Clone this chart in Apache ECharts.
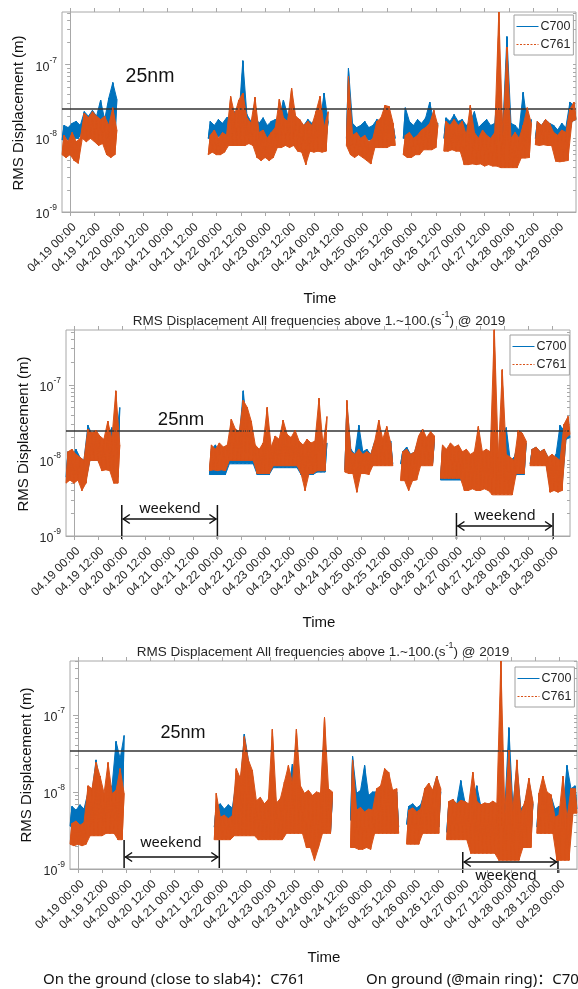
<!DOCTYPE html>
<html>
<head>
<meta charset="utf-8">
<script src="https://cdn.jsdelivr.net/npm/echarts@6.0.0/dist/echarts.min.js"></script>
<style>
  html, body { margin: 0; padding: 0; background: #fff; }
  #main { width: 578px; height: 989px; }
</style>
</head>
<body>
<div id="main"></div>
<script>
// time = hours since 04.19 00:00, one reading per hour inside each recorded stretch
const segStart = [-4, 68, 136, 164, 184, 229];

const tickHours = [0, 12, 24, 36, 48, 60, 72, 84, 96, 108, 120, 132, 144, 156, 168, 180, 192, 204, 216, 228, 240];
const tickLabels = ['04.19 00:00', '04.19 12:00', '04.20 00:00', '04.20 12:00', '04.21 00:00', '04.21 12:00',
  '04.22 00:00', '04.22 12:00', '04.23 00:00', '04.23 12:00', '04.24 00:00', '04.24 12:00', '04.25 00:00',
  '04.25 12:00', '04.26 00:00', '04.26 12:00', '04.27 00:00', '04.27 12:00', '04.28 00:00', '04.28 12:00', '04.29 00:00'];

// y values in nm (1 nm = 10^-9 m)
const yMajor = [1, 10, 100];
const yMajorLabels = ['-9', '-8', '-7'];
const yMinor = [2, 3, 4, 5, 6, 7, 8, 9, 20, 30, 40, 50, 60, 70, 80, 90, 200, 300, 400, 500];
const yMax = [520, 530, 500];
const limitLine = [25, 25, 34];

// panel 1
const p1C700 = [
  [9.5,15,10,14,9,16, 10,17,10,15, 12,23,13,20, 12,24,11,20, 11,33,11,18, 10,35,9,57,9,34],
  [10,17,9.5,15,10,18,11,16,9.5,19, 11,20,11,23,11,18,11,113, 11,21,11,17,11,20, 10,16,10,19,10,15,10,17,9.5,18,
   11,19,11,33,11,21,11,22,11,18, 10,17,10,15,10,18,10,16,10,19, 10,16,10,41,10,17],
  [10,89,10,16,10,14,9.5,15,10,17,9.5,14, 9.5,15,10,18,10,16,10,19,10,17,10,15,10],
  [10,26,10,17,9.5,15,10,18,10,16,10,19,10,31,10,17,10,16],
  [10,19,10,17,10,21,10,17,10,18, 9,15,9,17,9,23,9,14,9,16,9,18,9,15,9,16,9, 70,8,14,8,240,8,16,8,15,8,13, 9,42,9,16,9,18],
  [10,17,10,15,10,18,10,16,10, 15,9,13,9,16,9,14,9, 31,17,28,18]
];
const p1C761 = [
  [6,11,5.5,9,6,12, 5,9,4.6,10, 10,22,9,19, 10,23,9,20, 8,18,8.5,20, 6,15,5.5,26,6,13],
  [6,11,6.5,13,6,10,6,12,6.5,11, 8,37,8,21,8,33,8,41, 8,19,8.5,16,8,36, 5.5,12,5,13,5.5,10,5,12,5.5,14,
   7.5,34,7.5,19,8,17,7.5,48,8,20, 6.7,18,6.5,15,4.4,17,6.7,15,6.5,23, 6.7,37,6.5,14,6.7,23],
  [8,69,6,11,5.5,12,6,10,5.5,11,5,9, 4.5,10,7.5,17,7.5,19,7.5,28,7.5,27,8,16,8],
  [6,11,5.5,12,5.5,10,6,11,6,13,7,14,7,16,7,24,7.5,15],
  [6.7,17,6.7,15,7,18,6.7,15,6.7,17, 4.4,11,4.4,28,4.5,12,4.4,10,4.5,13,4.2,11,4.4,10,4.2,12,4.2,
   520,4,11,4,174,4,10,4,12,4,10, 5.4,15,5.4,26,5.5,16],
  [8.2,17,8,15,8.2,18,8,16,8, 12,4.9,11,4.8,13,4.9,12,5, 25,17,31,18]
];

// panel 2
const p2C700 = [
  [6,13,6,11,6,14,6, 11,5,10,5.5, 29,10,22,10,24,10, 20,8,18,8,21,8,27, 6,18,6,50],
  [6.5,14,6.5,16,6.5,13,6.5,15,6.5,14, 9,22,9,25,9,20,9,83,9,23,9,21,9, 15,6.5,13,6.5,16,6.5,22,6.5,14,
   8,20,8,18,8,22,8,20,8,17,8,20,8, 17,6.5,15,6.5,18,6.5,16,6.5,17, 7,40,7,15,7,17],
  [7.5,55,7.5,14,7.5,12,7,29,7,13,7,14,7,12, 9,18,9,16,9,19,9,17,9,18,9],
  [9,13,9,15,8.5,12,9,13,9,19,9,21,9,18,9,21,9,19],
  [5.5,14,5.5,12,5.5,15,5.5,13,5.5,14,5.5, 12,5,13,5,11,5,12,5,14,5,12,5,13,5,12,
   5,76,5,10,5,11,5,27,5,10,5,11, 6.5,17,6.5,15,6.5,17],
  [9,14,9,15,9,13,9,14,9, 11,4.5,10,4.5,12,4.5,29,4.5, 25,19,30,20]
];
const p2C761 = [
  [5,13,5.5,14,5,12,5.5, 11,4,10,5, 26,10,23,10,25,10, 21,7.3,19,7.5,33,7.3,19, 5,83,5,16],
  [7.3,16,7.5,14,7.3,17,7.5,15,7.3,16, 10,35,10,26,10,24,10,62,10,50,10,33,10, 16,6.7,14,6.7,17,6.7,50,6.7,15,
   8.5,21,8.5,19,8.5,34,8.5,22,8.5,20,8.5,25,8.5, 18,6.7,16,4,19,6.7,17,6.7,18, 7.3,66,7.3,16,7.3,38],
  [7,62,6.7,13,6.7,12,3.8,14,6.7,12,6.7,13,6.5,12, 8.5,18,8.5,34,8.5,19,8.5,28,8.5,17,8.5],
  [5.4,13,5.4,14,4,12,5.4,13,5.5,21,8.5,26,8.5,20,8.5,24,8.5,21],
  [5.8,16,5.8,14,5.8,17,5.8,15,5.8,16,5.8, 13,4,14,4,12,4.2,13,4,28,4,13,4.2,14,4,13,
   3.5,560,3.5,11,3.5,158,3.5,12,3.5,11,3.5,10, 6.7,25,6.7,23,6.7,18],
  [8.5,14,8.5,15,8.5,13,8.5,14,8.5, 11,3.8,12,4,11,3.8,10,4, 30,20,38,22]
];

// panel 3
const p3C700 = [
  [3.6,6.5,3.6,5.8,3.6,6.8,3.5,6,3.6, 10,4,10,4,26,4,13,4, 9,4,8,4,12,4,45, 3.5,27,3.5,54],
  [3.5,6.5,3.5,7,3.5,6,3.5,6.8,3.5,6.2, 3.5,14,3.5,12,3.5,56,3.5,26,3.5,14,3.5, 6,3,6.5,3,5.5,3,6,3,24,3,6.5,3,6,3,
   10,3.5,11,3.5,23,3.5,12,3.5,10,3.5, 5.3,2.5,5.8,2.5,5,2.5,5.5,2.5,5.3, 3,15,3,9,3,9],
  [4.3,29,4.3,9.6,4.3,10.5,4.3,22,4.3,9,4.3,10, 3.5,10,3.5,11,3.5,12,3.5,11,3.5,9.5,3.5,10,3.5],
  [3.8,6.5,3.8,7,3.8,6.2,3.8,6.8,3.5,10,3.5,11,3.5,10,3.5,16,3.5,10],
  [3,7,3,8,3,7,3,14,3,7.5,3, 6,2.5,8,2.5,12,2.5,6.5,2.5,6,2.5,7,2.5,6,2.5,6.5,
   2.5,16,2.5,6,2.5,68,2.5,6.5,2.5,22,2.5,6, 2.5,7,2.5,14,2.5,7],
  [3.5,9,3.5,10,3.5,9.5,3.5,9,3.5, 6,2,6.5,2,5.8,2,22,2, 11,6,12,6]
];
const p3C761 = [
  [2.1,3.9,2.0,4.2,2.1,3.7,2.0,4.0,2.1, 12,2.7,11,2.7,24,2.7,16,2.7, 9.6,2.9,24,2.9,9.5,2.9,10.5, 2.4,20,2.4,9.6],
  [2.4,9.6,2.4,4.7,2.4,5,2.4,4.5,2.4,4.9, 2.7,20,2.7,15,2.7,52,2.7,26,2.7,19,2.7,
   7.7,2.4,8.5,2.4,7,2.4,8,2.4,65,2.4,7.2,2.4,8.2,2.4, 13.5,2.9,22,2.9,13,2.9,65,2.9,12,2.9,
   9.6,1.9,10.5,1.9,9,1.3,10,1.9,9.6, 2.9,93,2.9,11,2.9,10],
  [1.9,26,1.9,5.8,1.8,6.3,1.8,5.5,1.9,6,1.8,5.8, 2.9,11,2.9,12,2.9,20,2.9,18,2.9,10.5,2.9,11,2.9],
  [2.1,5.8,2.1,6.2,2.1,5.5,2.1,6,2.9,11,2.9,13,2.9,10.5,2.9,16,2.9,11],
  [2.4,7.5,2.4,8,2.4,7,2.4,7.8,2.4,7.5,2.4, 7,1.6,18,1.6,7.5,1.6,6.8,1.6,7.2,1.6,7,1.6,7.6,1.6,7,
   1.3,500,1.3,5.3,1.3,35,1.3,5.6,1.3,26,1.3,5.3, 1.9,7.5,1.9,15,1.9,7.5],
  [2.9,9.6,2.9,16,2.9,10,2.9,9.2,2.9, 4.7,1.3,5,1.3,16,1.3,4.5,1.3, 11,5.3,11,5.3]
];

const c700 = [p1C700, p2C700, p3C700];
const c761 = [p1C761, p2C761, p3C761];

const BLUE = '#0072BD';
const ORANGE = '#D95319';
const AXIS = '#a8a8a8';
const TXT = '#262626';
const FONT = 'Liberation Sans, Arial, sans-serif';
const CAL = 'Noto Sans, Noto Sans CJK SC, sans-serif';

const grids = [
  { left: 62, top: 12, width: 514, height: 200 },
  { left: 66, top: 330, width: 504, height: 206 },
  { left: 70, top: 661, width: 507, height: 208 }
];
const legendPos = [
  { left: 514, top: 15 },
  { left: 510, top: 335 },
  { left: 515, top: 667 }
];

function toLine(segs) {
  const pts = [];
  segs.forEach(function (vals, i) {
    vals.forEach(function (v, j) { pts.push([segStart[i] + j, v]); });
    pts.push([segStart[i] + vals.length - 0.5, '-']);
  });
  return pts;
}

// fills the spread between successive readings so the noisy trace reads as a solid band
function bandSeries(name, pts, color, i, z) {
  return {
    name: name + ' band', type: 'custom', coordinateSystem: 'cartesian2d',
    xAxisIndex: 2 * i, yAxisIndex: 3 * i, data: pts, encode: { x: 0, y: 1 },
    silent: true, clip: true, z: z,
    renderItem: function (params, api) {
      const k = params.dataIndex, a = pts[k - 1], p = pts[k], b = pts[k + 1];
      if (!a || !b || a[1] === '-' || p[1] === '-' || b[1] === '-') return null;
      return {
        type: 'polygon',
        shape: { points: [api.coord(a), api.coord(p), api.coord(b)] },
        style: { fill: color, stroke: color, lineWidth: 1 }
      };
    }
  };
}

const xAxes = [], yAxes = [], series = [], legends = [];
grids.forEach(function (g, i) {
  g.show = true;
  g.borderColor = AXIS;
  g.borderWidth = 1;
  xAxes.push({
    gridIndex: i, type: 'value', min: -4, max: 249, position: 'bottom',
    axisLine: { show: true, lineStyle: { color: AXIS } },
    axisTick: { show: true, customValues: tickHours, length: 4, lineStyle: { color: AXIS } },
    axisLabel: {
      customValues: tickHours, rotate: 45, margin: 9, fontSize: 12, color: TXT, fontFamily: FONT,
      align: 'right', verticalAlign: 'top',
      formatter: function (v) { return tickLabels[tickHours.indexOf(Math.round(v))] || ''; }
    },
    splitLine: { show: false }
  });
  xAxes.push({
    gridIndex: i, type: 'value', min: -4, max: 249, position: 'top',
    axisLine: { show: false },
    axisTick: { show: true, customValues: tickHours, length: 4, lineStyle: { color: AXIS } },
    axisLabel: { show: false }, splitLine: { show: false }
  });
  yAxes.push({
    gridIndex: i, type: 'log', logBase: 10, min: 1, max: yMax[i], position: 'left',
    axisLine: { show: true, lineStyle: { color: AXIS } },
    axisTick: { show: true, customValues: yMajor, length: 5, lineStyle: { color: AXIS } },
    axisLabel: {
      customValues: yMajor, margin: 5,
      formatter: function (v) {
        const k = yMajor.indexOf(Math.round(v));
        return '{b|10}{s|' + yMajorLabels[k] + '}';
      },
      rich: {
        b: { fontSize: 12.5, lineHeight: 18, verticalAlign: 'bottom', color: TXT, fontFamily: FONT },
        s: { fontSize: 8.5, lineHeight: 10, verticalAlign: 'top', color: TXT, fontFamily: FONT }
      }
    },
    splitLine: { show: false }
  });
  yAxes.push({
    gridIndex: i, type: 'log', logBase: 10, min: 1, max: yMax[i], position: 'left',
    axisLine: { show: false },
    axisTick: { show: true, customValues: yMinor, length: 3, lineStyle: { color: AXIS } },
    axisLabel: { show: false }, splitLine: { show: false }
  });
  yAxes.push({
    gridIndex: i, type: 'log', logBase: 10, min: 1, max: yMax[i], position: 'right',
    axisLine: { show: false },
    axisTick: { show: true, inside: true, customValues: yMajor.concat(yMinor), length: 3, lineStyle: { color: AXIS } },
    axisLabel: { show: false }, splitLine: { show: false }
  });

  const blue = toLine(c700[i]);
  const orange = toLine(c761[i]);
  series.push(bandSeries('C700', blue, BLUE, i, 2));
  series.push({
    name: 'C700', type: 'line', xAxisIndex: 2 * i, yAxisIndex: 3 * i, z: 3,
    data: blue, showSymbol: false, symbol: 'none', connectNulls: false,
    lineStyle: { color: BLUE, width: 1 }, itemStyle: { color: BLUE }, silent: true
  });
  series.push(bandSeries('C761', orange, ORANGE, i, 4));
  series.push({
    name: 'C761', type: 'line', xAxisIndex: 2 * i, yAxisIndex: 3 * i, z: 5,
    data: orange, showSymbol: false, symbol: 'none', connectNulls: false,
    lineStyle: { color: ORANGE, width: 1 }, itemStyle: { color: ORANGE }, silent: true,
    markLine: {
      silent: true, symbol: ['none', 'none'], label: { show: false },
      lineStyle: { color: '#333', width: 1.5, type: 'solid' },
      data: [{ yAxis: limitLine[i] }]
    }
  });

  legends.push({
    left: legendPos[i].left, top: legendPos[i].top, orient: 'vertical',
    backgroundColor: '#fff', borderColor: '#a0a0a0', borderWidth: 1,
    padding: [5, 3, 4, 2], itemGap: 5, itemWidth: 22, itemHeight: 12,
    itemStyle: { opacity: 0 },
    lineStyle: { width: 1 },
    textStyle: { fontSize: 12.5, color: TXT, fontFamily: FONT, padding: [0, 0, 0, -3] },
    data: [
      { name: 'C700' },
      { name: 'C761', lineStyle: { type: [2, 1.5] } }
    ],
    selectedMode: false
  });
});

const titleText = '{b|RMS Displacement All frequencies above 1.~100.(s}{s|-1}{b|) @ 2019}';
const titleRich = {
  b: { fontSize: 13.5, fontWeight: 'normal', lineHeight: 18, verticalAlign: 'bottom', color: TXT, fontFamily: FONT },
  s: { fontSize: 9, fontWeight: 'normal', lineHeight: 10, verticalAlign: 'top', color: TXT, fontFamily: FONT }
};

const option = {
  animation: false,
  backgroundColor: '#fff',
  grid: grids,
  xAxis: xAxes,
  yAxis: yAxes,
  legend: legends,
  title: [
    { text: titleText, left: 319, top: 310, textAlign: 'center', padding: 0, textStyle: { fontWeight: 'normal', rich: titleRich } },
    { text: titleText, left: 323, top: 641, textAlign: 'center', padding: 0, textStyle: { fontWeight: 'normal', rich: titleRich } }
  ],
  series: series
};

const chart = echarts.init(document.getElementById('main'));
chart.setOption(option);

function txt(x, y, s, size, font, rot) {
  return {
    type: 'text', x: x, y: y, rotation: rot || 0, silent: true,
    style: { text: s, fontSize: size, fontFamily: font, fill: '#111', align: 'center', verticalAlign: 'middle' }
  };
}

const graphics = [
  txt(18.5, 113, 'RMS Displacement (m)', 15, FONT, Math.PI / 2),
  txt(23.5, 434, 'RMS Displacement (m)', 15, FONT, Math.PI / 2),
  txt(27, 765, 'RMS Displacement (m)', 15, FONT, Math.PI / 2),
  txt(320, 299, 'Time', 15, FONT),
  txt(319, 623, 'Time', 15, FONT),
  txt(324, 958, 'Time', 15, FONT),
  txt(150, 77, '25nm', 19.5, FONT),
  txt(181, 420, '25nm', 18.5, FONT),
  txt(183, 733, '25nm', 18, FONT),
  { type: 'text', x: 43, y: 980, silent: true,
    style: { text: 'On the ground (close to slab4)：C761', fontSize: 15, fontFamily: CAL, fill: '#111', align: 'left', verticalAlign: 'middle' } },
  { type: 'text', x: 366, y: 980, silent: true,
    style: { text: 'On ground (@main ring)：C700', fontSize: 15, fontFamily: CAL, fill: '#111', align: 'left', verticalAlign: 'middle' } }
];

// weekend spans: panel, start/end hour, bar top/bottom, arrow and text heights
const weekends = [
  { p: 1, from: 24, to: 72, top: 505, bottom: 539, arrowY: 519, textX: 170, textY: 509 },
  { p: 1, from: 192, to: 240.5, top: 513, bottom: 539, arrowY: 526, textX: 505, textY: 516 },
  { p: 2, from: 23, to: 70.5, top: 840, bottom: 868, arrowY: 857, textX: 171, textY: 843 },
  { p: 2, from: 192, to: 239.5, top: 852, bottom: 873, arrowY: 862, textX: 506, textY: 876 }
];
weekends.forEach(function (w) {
  const x1 = chart.convertToPixel({ xAxisIndex: 2 * w.p }, w.from);
  const x2 = chart.convertToPixel({ xAxisIndex: 2 * w.p }, w.to);
  const st = { stroke: '#111', lineWidth: 1.5, fill: null };
  graphics.push({ type: 'line', silent: true, shape: { x1: x1, y1: w.top, x2: x1, y2: w.bottom }, style: st });
  graphics.push({ type: 'line', silent: true, shape: { x1: x2, y1: w.top, x2: x2, y2: w.bottom }, style: st });
  graphics.push({ type: 'line', silent: true, shape: { x1: x1 + 1, y1: w.arrowY, x2: x2 - 1, y2: w.arrowY }, style: st });
  graphics.push({ type: 'polyline', silent: true, shape: { points: [[x1 + 8, w.arrowY - 4.5], [x1 + 1.5, w.arrowY], [x1 + 8, w.arrowY + 4.5]] }, style: st });
  graphics.push({ type: 'polyline', silent: true, shape: { points: [[x2 - 8, w.arrowY - 4.5], [x2 - 1.5, w.arrowY], [x2 - 8, w.arrowY + 4.5]] }, style: st });
  graphics.push(txt(w.textX, w.textY, 'weekend', 14.5, CAL));
});

chart.setOption({ graphic: graphics });
</script>
</body>
</html>
